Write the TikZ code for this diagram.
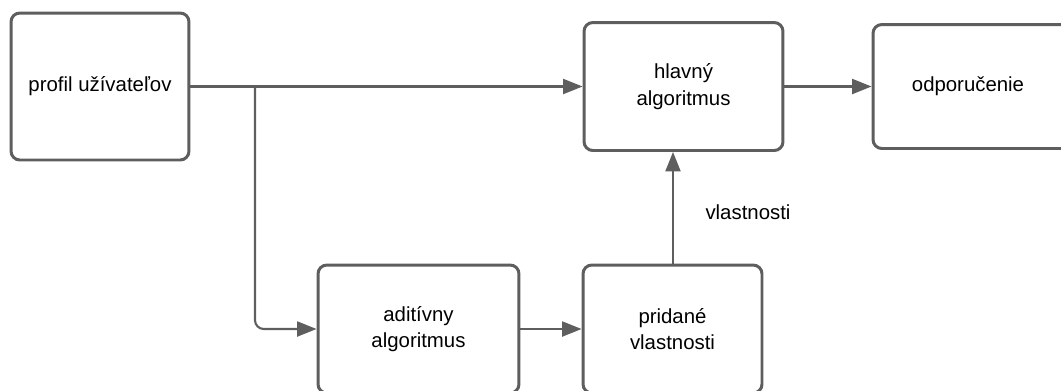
\documentclass[tikz,border=0pt]{standalone}
\usepackage{fontspec}
\setmainfont{Liberation Sans}
\usetikzlibrary{arrows.meta}
\definecolor{ln}{HTML}{5E5E5E}
\begin{document}
\begin{tikzpicture}[x=0.02cm,y=-0.02cm,
  box/.style={draw=ln,line width=1.7pt,rounded corners=5pt,fill=white,align=center,
    font=\fontsize{11.6}{15}\selectfont,inner sep=0pt},
  conn/.style={draw=ln,line width=1.2pt,-{Triangle[length=11pt,width=8.5pt]}},
  lbl/.style={font=\fontsize{11.6}{15}\selectfont}]
\useasboundingbox (0,0) rectangle (1061,390);
\clip (0,0) rectangle (1061,390);
\node[box,minimum width=3.56cm,minimum height=2.94cm] (prof) at (100,86.5) {profil užívateľov};
\node[box,minimum width=3.98cm,minimum height=2.56cm] (hlav) at (683.5,86.5) {hlavný\\algoritmus};
\node[box,minimum width=4.04cm,minimum height=2.48cm] (odp) at (974,86.5) {};
\node[lbl] (odptxt) at (968,86.5) {odporučenie};
\node[box,minimum width=4.02cm,minimum height=2.56cm] (adit) at (418.5,329) {aditívny\\algoritmus};
\node[box,minimum width=3.58cm,minimum height=2.56cm] (prid) at (672.5,329) {pridané\\vlastnosti};
\coordinate (j) at (255,86.5);
\draw[conn] (prof.east) -- (hlav.west |- prof.east);
\draw[conn,rounded corners=5pt] (j) |- (adit.west);
\draw[conn] (adit.east) -- (prid.west);
\draw[conn] (prid.north -| 673,0) -- (hlav.south -| 673,0);
\draw[conn] (hlav.east) -- (odp.west);
\node[lbl] (vl) at (748,212) {vlastnosti};
\end{tikzpicture}
\end{document}
